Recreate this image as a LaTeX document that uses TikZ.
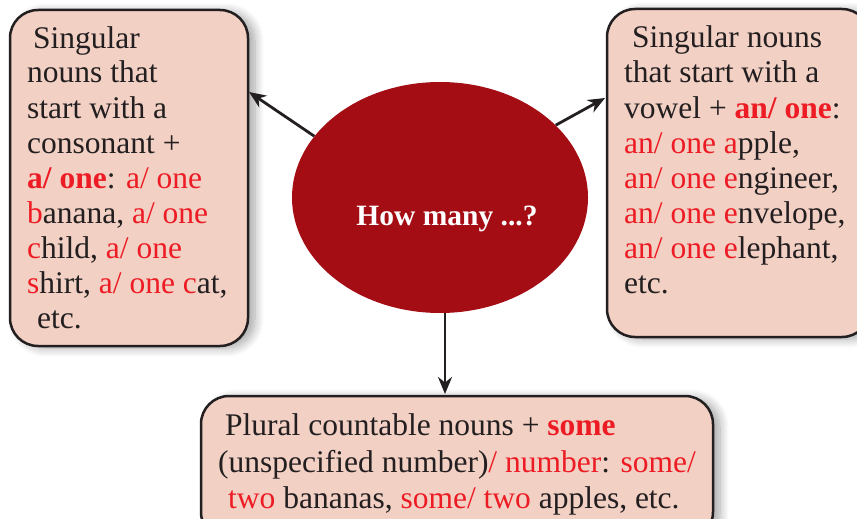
\documentclass[tikz,border=0pt]{standalone}
\usepackage{fontspec}
\setmainfont{Liberation Serif}
\usetikzlibrary{shapes.geometric,arrows.meta,shadows.blur}
\definecolor{boxfill}{RGB}{242,208,196}
\definecolor{ellred}{RGB}{165,13,21}
\definecolor{txtred}{RGB}{237,28,36}
\definecolor{txtdark}{RGB}{35,31,32}
\newcommand{\R}[1]{\textcolor{txtred}{#1}}
\begin{document}
\begin{tikzpicture}[x=1pt,y=-1pt,
  bx/.style={draw=txtdark,line width=2.5pt,fill=boxfill,rounded corners=28pt,
    blur shadow={shadow xshift=7pt,shadow yshift=-2pt,shadow blur radius=9pt,shadow blur steps=10,shadow opacity=35}},
  ln/.style={anchor=base west,inner sep=0pt,text=txtdark,font=\fontsize{31.5}{35}\selectfont},
  arr/.style={draw=txtdark,line width=2.8pt,-{Stealth[length=17pt,width=14pt]}}]
\useasboundingbox (0,0) rectangle (857,519);
% boxes
\draw[bx] (10,10) rectangle (248,346);
\draw[bx] (607,9) rectangle (870,337);
\draw[bx] (201,396) rectangle (713,540);
% ellipse
\node[ellipse,fill=ellred,inner sep=0pt,minimum width=296pt,minimum height=231pt] (ell) at (440,197.5) {};
\node[anchor=base,inner sep=0pt,text=white,font=\fontsize{29.5}{32}\selectfont\bfseries] (q) at (447,225) {How many ...?};
% left text
\node[ln] (l1) at (33,49) {Singular};
\node[ln] (l2) at (27,83) {nouns that};
\node[ln] (l3) at (27,118) {start with a};
\node[ln] (l4) at (27,153) {consonant +};
\node[ln] (l5) at (27,188) {\textbf{\R{a/ one}}: \R{a/ one}};
\node[ln] (l6) at (27,223) {\R{b}anana, \R{a/ one}};
\node[ln] (l7) at (27,258) {\R{c}hild, \R{a/ one}};
\node[ln] (l8) at (27,293) {\R{s}hirt, \R{a/ one c}at,};
\node[ln] (l9) at (37,328) {etc.};
% right text
\node[ln] (r1) at (632,48) {Singular nouns};
\node[ln] (r2) at (624,83) {that start with a};
\node[ln] (r3) at (624,118) {vowel + \textbf{\R{an/ one}}:};
\node[ln] (r4) at (624,153) {\R{an/ one a}pple,};
\node[ln] (r5) at (624,188) {\R{an/ one e}ngineer,};
\node[ln] (r6) at (624,223) {\R{an/ one e}nvelope,};
\node[ln] (r7) at (624,258) {\R{an/ one e}lephant,};
\node[ln] (r8) at (624,293) {etc.};
% bottom text
\node[ln] (b1) at (225,435) {Plural countable nouns + \textbf{\R{some}}};
\node[ln] (b2) at (218,472) {(unspecified number)\R{/ number}: \R{some/}};
\node[ln] (b3) at (228,508) {\R{two} bananas, \R{some/ two} apples, etc.};
% arrows
\coordinate (ltip) at (249,92);
\coordinate (rtip) at (605,98);
\coordinate (dtip) at (445,394);
\draw[arr] (ell.154.5) -- (ltip);
\draw[arr] (ell.32.5) -- (rtip);
\draw[arr] (dtip |- ell.south) -- (dtip);
\end{tikzpicture}
\end{document}
